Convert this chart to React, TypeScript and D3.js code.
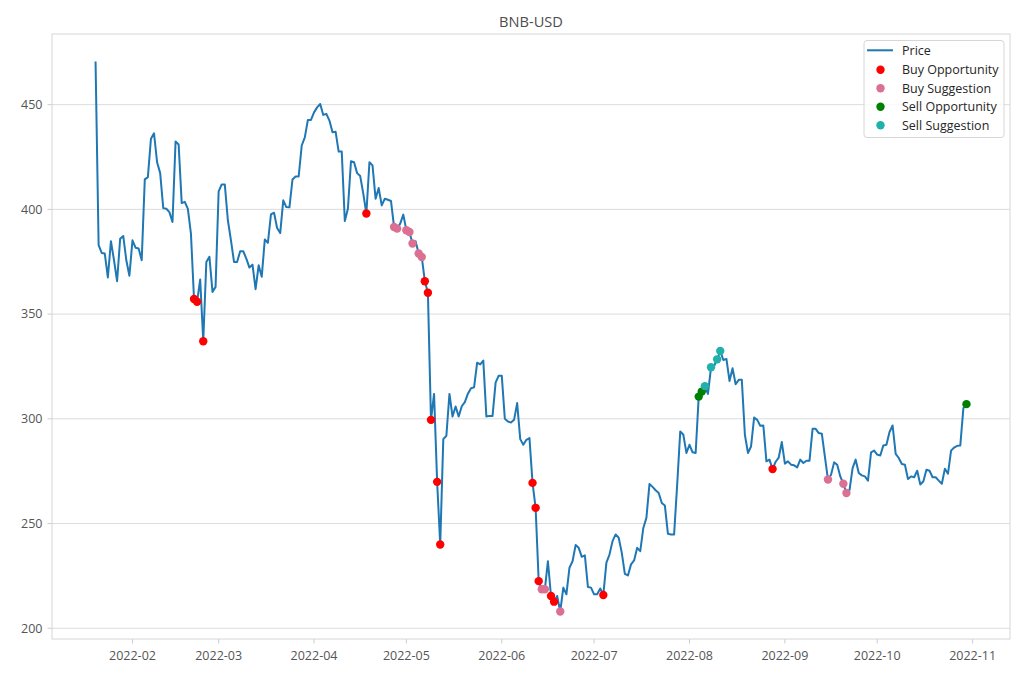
import React from "react";
import * as d3 from "d3";

const START_DATE = new Date(2022, 0, 20);
const prices: number[] = [
  470.6, 382.9, 379.2, 378.9, 367.5, 384.8, 375.7, 365.7, 386.0, 387.3, 375.7, 368.3,
  385.2, 381.7, 381.3, 375.7, 414.3, 415.4, 433.7, 436.3, 422.5, 417.3, 400.6, 400.3,
  398.7, 394.0, 432.4, 431.0, 403.0, 403.6, 400.2, 388.4, 357.2, 355.9, 366.5, 337.0,
  374.9, 377.4, 360.6, 363.0, 408.6, 411.9, 411.9, 394.8, 385.2, 374.9, 374.9, 380.0,
  380.0, 376.5, 372.2, 373.6, 361.9, 373.3, 367.8, 385.6, 384.0, 397.6, 398.4, 391.1,
  388.7, 404.3, 401.1, 401.0, 414.3, 415.7, 415.7, 430.5, 434.4, 442.7, 442.7, 446.3,
  448.7, 450.3, 445.1, 445.6, 442.4, 436.8, 437.1, 427.6, 427.6, 394.4, 400.3, 423.0,
  422.5, 417.3, 415.9, 407.5, 398.0, 422.5, 421.0, 405.1, 410.2, 401.9, 405.1, 404.6,
  404.0, 391.6, 390.8, 393.2, 397.5, 390.0, 389.2, 383.7, 384.8, 378.9, 377.3, 365.7,
  360.2, 299.5, 311.9, 269.9, 240.0, 290.3, 291.9, 311.9, 301.1, 305.9, 301.1, 306.0,
  308.0, 312.0, 314.6, 315.0, 326.8, 326.0, 327.8, 301.1, 301.4, 301.4, 317.3, 320.6,
  320.6, 300.0, 298.7, 298.2, 299.5, 307.5, 290.3, 287.6, 290.0, 290.8, 269.4, 257.5,
  222.5, 218.6, 218.6, 232.0, 215.4, 212.7, 215.4, 208.0, 219.4, 216.2, 228.9, 232.0,
  239.7, 238.4, 234.1, 234.8, 219.7, 219.4, 216.2, 216.2, 219.0, 215.9, 231.3, 235.2,
  241.6, 244.8, 243.2, 236.0, 226.0, 225.2, 230.5, 232.4, 238.4, 236.8, 247.9, 252.7,
  268.9, 267.5, 265.9, 264.6, 259.8, 258.6, 245.1, 244.8, 244.8, 268.6, 294.0, 292.4,
  283.7, 287.6, 284.0, 283.7, 310.6, 313.0, 315.6, 311.9, 324.6, 325.2, 328.4, 332.4,
  328.1, 328.6, 318.1, 324.1, 316.5, 318.6, 318.6, 292.4, 283.7, 286.8, 300.6, 299.5,
  296.7, 296.8, 279.7, 280.5, 276.0, 279.5, 281.5, 288.9, 278.6, 279.7, 278.1, 277.8,
  276.8, 280.5, 278.9, 280.0, 280.0, 295.2, 295.2, 293.2, 292.9, 282.0, 271.0, 273.3,
  279.2, 278.1, 272.5, 269.0, 264.6, 266.0, 276.5, 280.5, 274.1, 273.0, 272.5, 270.5,
  284.0, 284.8, 282.9, 282.5, 287.3, 287.6, 293.7, 296.8, 283.3, 281.3, 278.4, 278.1,
  271.3, 272.5, 272.1, 275.2, 268.6, 270.2, 275.7, 275.2, 272.1, 272.1, 270.5, 269.0,
  276.2, 273.8, 284.8, 286.3, 287.1, 287.3, 305.1, 307.0,
];

const buyOpportunityIdx = [32, 33, 35, 88, 107, 108, 109, 111, 112, 142, 143, 144, 148, 149, 165, 220];
const buySuggestionIdx = [97, 98, 101, 102, 103, 105, 106, 145, 146, 151, 238, 243, 244];
const sellOpportunityIdx = [196, 197, 283];
const sellSuggestionIdx = [198, 200, 202, 203];

const yTicks = [200, 250, 300, 350, 400, 450];

const W = 1020, H = 680;
const M = { left: 52, right: 1010, top: 34, bottom: 639 };

const series = [
  { name: "Buy Opportunity", idx: buyOpportunityIdx, color: "#ff0000" },
  { name: "Buy Suggestion", idx: buySuggestionIdx, color: "#db7093" },
  { name: "Sell Opportunity", idx: sellOpportunityIdx, color: "#008000" },
  { name: "Sell Suggestion", idx: sellSuggestionIdx, color: "#20b2aa" },
];

export default function App() {
  const dates = prices.map((_, i) => d3.timeDay.offset(START_DATE, i));
  const [d0, d1] = d3.extent(dates) as [Date, Date];
  const span = +d1 - +d0;
  const x = d3
    .scaleTime()
    .domain([new Date(+d0 - span * 0.05), new Date(+d1 + span * 0.05)])
    .range([M.left, M.right]);
  const [pMin, pMax] = d3.extent(prices) as [number, number];
  const pr = pMax - pMin;
  const y = d3
    .scaleLinear()
    .domain([pMin - pr * 0.05, pMax + pr * 0.05])
    .range([M.bottom, M.top]);

  const line = d3
    .line<number>()
    .x((_, i) => x(dates[i]))
    .y((d) => y(d));

  const xTicks = d3.timeMonth.range(new Date(2022, 1, 1), new Date(2022, 10, 2));
  const fmt = d3.timeFormat("%Y-%m");
  const textColor = "#555555";
  const font = "'Open Sans', 'Noto Sans', sans-serif";

  const legendX = 864, legendY = 40.5;
  const legendRows = [50.3, 69.7, 88.3, 106.7, 125.3];

  return (
    <svg
      width={W}
      height={H}
      style={{ position: "absolute", left: 0, top: 0, background: "#fff" }}
      fontFamily={font}
    >
      <rect x={0} y={0} width={W} height={H} fill="#fff" />
      {yTicks.map((t) => (
        <g key={t}>
          <line x1={M.left} x2={M.right} y1={y(t)} y2={y(t)} stroke="#dcdcdc" strokeWidth={1} />
          <line x1={M.left - 4.5} x2={M.left} y1={y(t)} y2={y(t)} stroke="#cccccc" strokeWidth={1} />
          <text x={M.left - 9.5} y={y(t)} dy="0.35em" textAnchor="end" fontSize={12.5} fill={textColor}>
            {t}
          </text>
        </g>
      ))}
      {xTicks.map((t) => (
        <g key={+t}>
          <line x1={x(t)} x2={x(t)} y1={M.bottom} y2={M.bottom + 4.5} stroke="#cccccc" strokeWidth={1} />
          <text x={x(t)} y={M.bottom + 21} textAnchor="middle" fontSize={12.5} fill={textColor}>
            {fmt(t)}
          </text>
        </g>
      ))}
      <rect
        x={M.left}
        y={M.top}
        width={M.right - M.left}
        height={M.bottom - M.top}
        fill="none"
        stroke="#d6d6d6"
        strokeWidth={1}
      />
      <path d={line(prices) || ""} fill="none" stroke="#1f77b4" strokeWidth={2} strokeLinejoin="round" />
      {series.map((s) =>
        s.idx.map((i) => (
          <circle key={s.name + i} cx={x(dates[i])} cy={y(prices[i])} r={4.2} fill={s.color} />
        ))
      )}
      <text x={(M.left + M.right) / 2} y={27} textAnchor="middle" fontSize={14.6} fill="#4d4d4d">
        BNB-USD
      </text>
      <rect
        x={legendX}
        y={legendY}
        width={140}
        height={97}
        rx={3}
        fill="#fff"
        fillOpacity={0.8}
        stroke="#d6d6d6"
      />
      <line x1={867} x2={893} y1={legendRows[0]} y2={legendRows[0]} stroke="#1f77b4" strokeWidth={2} />
      <text x={902} y={legendRows[0]} dy="0.35em" fontSize={12.5} fill="#262626">
        Price
      </text>
      {series.map((s, k) => (
        <g key={s.name}>
          <circle cx={880.5} cy={legendRows[k + 1]} r={4.2} fill={s.color} />
          <text x={902} y={legendRows[k + 1]} dy="0.35em" fontSize={12.5} fill="#262626">
            {s.name}
          </text>
        </g>
      ))}
    </svg>
  );
}
